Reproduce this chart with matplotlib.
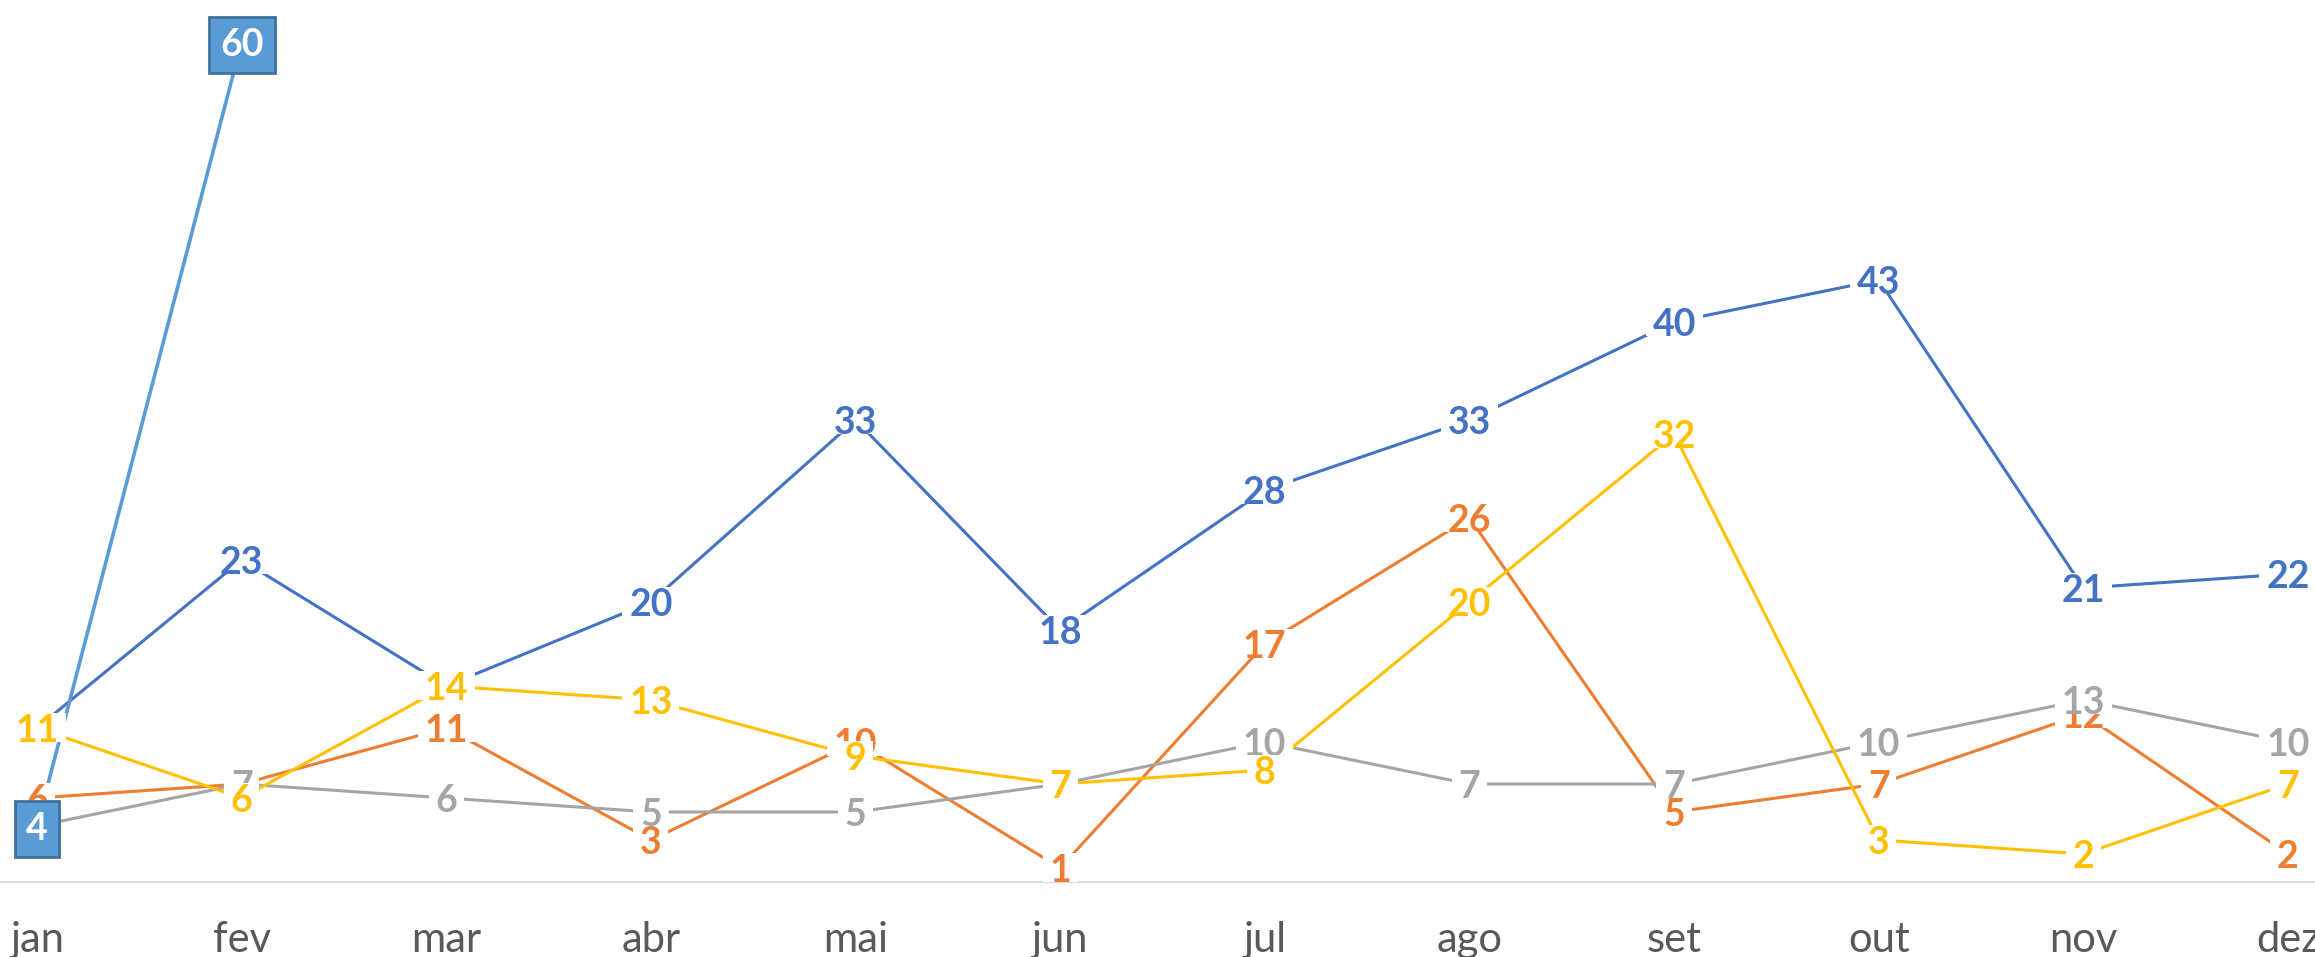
import matplotlib.pyplot as plt
from matplotlib.path import Path

meses = ["jan", "fev", "mar", "abr", "mai", "jun", "jul", "ago", "set", "out", "nov", "dez"]
azul = [11, 23, 14, 20, 33, 18, 28, 33, 40, 43, 21, 22]
laranja = [6, 7, 11, 3, 10, 1, 17, 26, 5, 7, 12, 2]
cinza = [4, 7, 6, 5, 5, 7, 10, 7, 7, 10, 13, 10]
amarelo = [11, 6, 14, 13, 9, 7, 8, 20, 32, 3, 2, 7]
destaque = [4, 60]

plt.rcParams['font.family'] = ['Lato', 'DejaVu Sans']


# white box tight around the digits (like the excel label fill)
def caixa_justa(x0, y0, width, height, mutation_size):
    em = mutation_size
    padx = 0.18 * em
    baixo = y0 + 0.16 * em
    cima = y0 + height + 0.02 * em
    return Path([(x0 - padx, baixo), (x0 + width + padx, baixo),
                 (x0 + width + padx, cima), (x0 - padx, cima),
                 (x0 - padx, baixo)], closed=True)


fig = plt.figure(figsize=(23.15, 9.57), dpi=100)
ax = fig.add_axes([0, 75 / 957, 1, 882 / 957])

x = list(range(len(meses)))
series = [
    (azul, '#4472C4'),
    (laranja, '#ED7D31'),
    (cinza, '#A5A5A5'),
    (amarelo, '#FFC000'),
]

for vals, cor in series:
    ax.plot(x, vals, color=cor, lw=2.2, zorder=2, solid_capstyle='butt')

# destaque line (jan -> fev)
ax.plot(x[:len(destaque)], destaque, color='#5B9BD5', lw=2.6, zorder=2.5)

z = 3
for vals, cor in series:
    for xi, v in zip(x, vals):
        ax.text(xi, v, str(v), color=cor, fontsize=27, fontweight='bold',
                ha='center', va='center_baseline', zorder=z, clip_on=False,
                bbox=dict(boxstyle=caixa_justa, fc='white', ec='none'))
    z += 1

for xi, v in zip(x, destaque):
    ax.text(xi, v, str(v), color='white', fontsize=27, fontweight='bold',
            ha='center', va='center_baseline', zorder=z, clip_on=False,
            bbox=dict(boxstyle='square,pad=0.3', fc='#5B9BD5', ec='#41719C', lw=2))

ax.set_xlim(-37 / 204.6, 11 + 27 / 204.6)
ax.set_ylim(0, 882 / 14)

ax.set_xticks(x)
ax.set_xticklabels(meses, fontsize=30, color='#595959')
ax.tick_params(axis='x', length=0, pad=28)
ax.set_yticks([])

for s in ['top', 'left', 'right']:
    ax.spines[s].set_visible(False)
ax.spines['bottom'].set_color('#D9D9D9')
ax.spines['bottom'].set_linewidth(1.5)
ax.spines['bottom'].set_zorder(1)

plt.savefig('out.png', dpi=100)
